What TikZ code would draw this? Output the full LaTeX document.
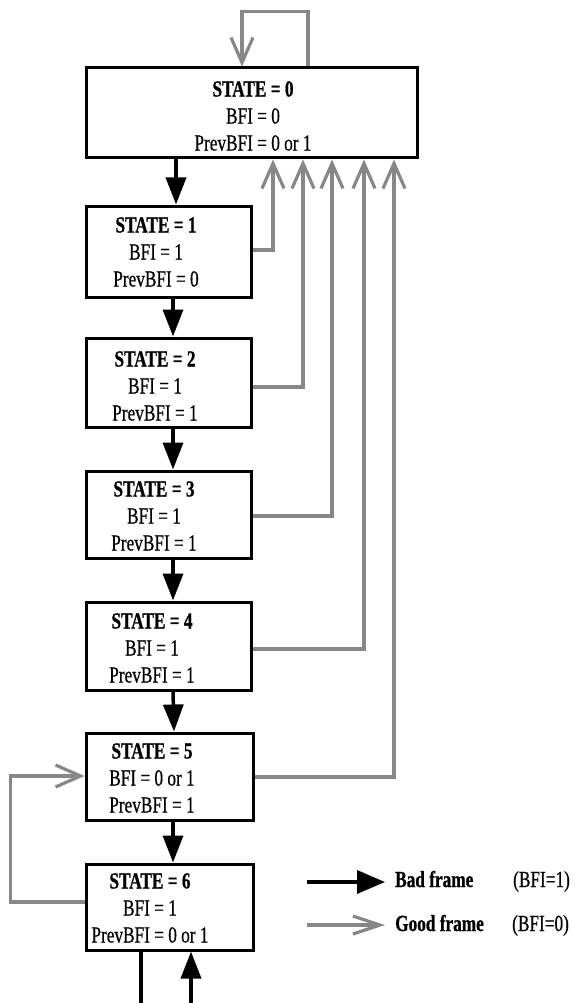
\documentclass[tikz,border=0pt]{standalone}
\usepackage{fontspec}
\setmainfont{Liberation Serif}[FakeStretch=0.75, UprightFeatures={FakeBold=0.6}, BoldFeatures={FakeBold=0.8}]
\usetikzlibrary{arrows.meta}
\definecolor{goodgray}{RGB}{135,135,135}
\tikzset{
  statebox/.style={draw=black, line width=3pt, fill=white, rectangle, inner sep=0pt},
  statetext/.style={align=center, inner sep=0pt, font=\fontsize{23}{27}\selectfont},
  legtext/.style={inner sep=0pt, font=\fontsize{23}{27}\selectfont},
  bad/.style={draw=black, line width=3.5pt, -{Triangle[length=27pt,width=20pt]}},
  badline/.style={draw=black, line width=3.5pt},
  good/.style={draw=goodgray, line width=3.2pt, -{Straight Barb[length=25pt,width=22pt,line width=3.2pt]}},
}
\begin{document}
\begin{tikzpicture}[x=1pt,y=-1pt]
\useasboundingbox[fill=white] (0,0) rectangle (577,1003);

% state boxes
\node[statebox, minimum width=331pt, minimum height=90pt] (s0) at (251.5,113) {};
\node[statebox, minimum width=165pt, minimum height=91pt] (s1) at (168.5,251.5) {};
\node[statebox, minimum width=165pt, minimum height=89pt] (s2) at (168.5,382.5) {};
\node[statebox, minimum width=165pt, minimum height=87pt] (s3) at (168.5,514.5) {};
\node[statebox, minimum width=165pt, minimum height=88pt] (s4) at (168.5,646) {};
\node[statebox, minimum width=167pt, minimum height=87pt] (s5) at (169.5,776.5) {};
\node[statebox, minimum width=167pt, minimum height=86pt] (s6) at (169.5,907) {};

% texts
\node[statetext] (t0) at (253,116) {\textbf{STATE = 0}\\BFI = 0\\PrevBFI = 0 or 1};
\node[statetext] (t1) at (156,252) {\textbf{STATE = 1}\\BFI = 1\\PrevBFI = 0};
\node[statetext] (t2) at (155,386) {\textbf{STATE = 2}\\BFI = 1\\PrevBFI = 1};
\node[statetext] (t3) at (154,516) {\textbf{STATE = 3}\\BFI = 1\\PrevBFI = 1};
\node[statetext] (t4) at (152,648) {\textbf{STATE = 4}\\BFI = 1\\PrevBFI = 1};
\node[statetext] (t5) at (152,778) {\textbf{STATE = 5}\\BFI = 0 or 1\\PrevBFI = 1};
\node[statetext] (t6) at (150,908) {\textbf{STATE = 6}\\BFI = 1\\PrevBFI = 0 or 1};

% bad-frame transitions (black)
\draw[bad] ([xshift=7.5pt]s0.south -| s1.north) -- ([xshift=7.5pt]s1.north);
\draw[bad] ([xshift=4.5pt]s1.south) -- ([xshift=4.5pt]s2.north);
\draw[bad] ([xshift=4.5pt]s2.south) -- ([xshift=4.5pt]s3.north);
\draw[bad] ([xshift=4.5pt]s3.south) -- ([xshift=4.5pt]s4.north);
\draw[bad] ([xshift=4.5pt]s4.south) -- ([xshift=4.5pt]s5.north);
\draw[bad] ([xshift=3.5pt]s5.south) -- ([xshift=3.5pt]s6.north);

% bottom connectors
\coordinate (b1) at (141,1003);
\coordinate (b2) at (191,1003);
\draw[badline] ([xshift=-28.5pt]s6.south) -- (b1);
\draw[bad] (b2) -- ([xshift=21.5pt]s6.south);

% good-frame transitions (gray)
\draw[good] ([xshift=56.5pt]s0.north) -- ++(0,-55) -| ([xshift=-9.5pt]s0.north);
\draw[good] ([yshift=1.5pt]s1.east) -| ([xshift=21.5pt]s0.south);
\draw[good] ([yshift=-4.5pt]s2.east) -| ([xshift=51.5pt]s0.south);
\draw[good] ([yshift=-1.5pt]s3.east) -| ([xshift=80.5pt]s0.south);
\draw[good] ([yshift=-3pt]s4.east) -| ([xshift=112.5pt]s0.south);
\draw[good] ([yshift=-0.5pt]s5.east) -| ([xshift=142.5pt]s0.south);
\draw[good] ([yshift=5pt]s6.west) -- ++(-74,0) |- ([yshift=0.5pt]s5.west);

% legend
\coordinate (la1) at (307,882);
\coordinate (la2) at (385,882);
\coordinate (lg1) at (307,925);
\coordinate (lg2) at (385,925);
\draw[draw=black, line width=3.5pt, -{Triangle[length=28pt,width=23pt]}] (la1) -- (la2);
\draw[draw=goodgray, line width=3.2pt, -{Straight Barb[length=27pt,width=18pt,line width=3.2pt]}] (lg1) -- (lg2);
\node[legtext, anchor=base west] (lbad) at (395,887) {\textbf{Bad frame}};
\node[legtext, anchor=base west] (lbadv) at (513,887) {(BFI=1)};
\node[legtext, anchor=base west] (lgood) at (395,931) {\textbf{Good frame}};
\node[legtext, anchor=base west] (lgoodv) at (512,931) {(BFI=0)};
\end{tikzpicture}
\end{document}
